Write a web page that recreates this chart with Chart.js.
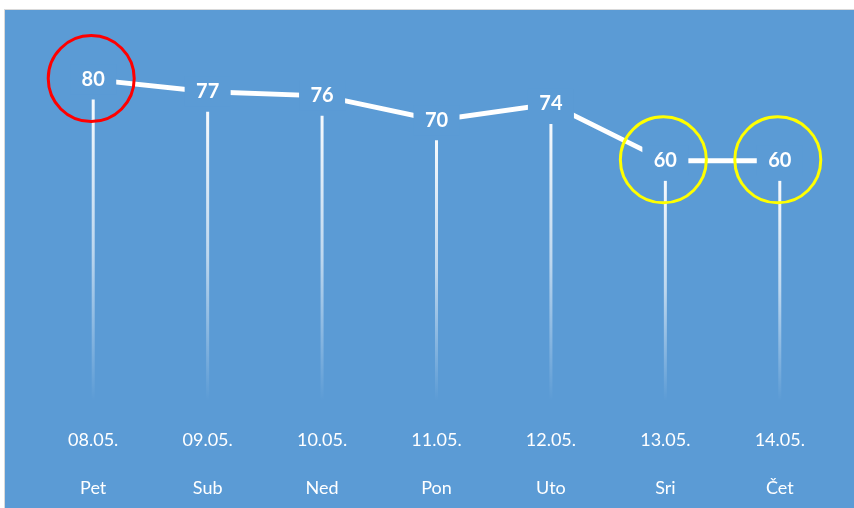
<!DOCTYPE html>
<html>
<head>
<meta charset="utf-8">
<script src="https://cdn.jsdelivr.net/npm/chart.js@4.4.1/dist/chart.umd.min.js"></script>
<style>
  html, body { margin: 0; padding: 0; background: #fff; }
  #wrap { width: 854px; height: 508px; position: relative; }
</style>
</head>
<body>
<div id="wrap"><canvas id="grafikon" width="854" height="508"></canvas></div>
<script>
// podaci s grafa
const datumi = ["08.05.", "09.05.", "10.05.", "11.05.", "12.05.", "13.05.", "14.05."];
const dani = ["Pet", "Sub", "Ned", "Pon", "Uto", "Sri", "Čet"];
const vrijednosti = [80, 77, 76, 70, 74, 60, 60];
const oznaceni = [0, 5, 6];           // zaokruženi dani
const bojeKrugova = ["#ff0000", "#ffff00", "#ffff00"];

const PLAVA = "#5b9bd5";

// pozadina - plavi panel
const pozadina = {
  id: "pozadina",
  beforeDraw(chart) {
    const ctx = chart.ctx;
    ctx.save();
    ctx.fillStyle = "#ffffff";
    ctx.fillRect(0, 0, chart.width, chart.height);
    ctx.fillStyle = PLAVA;
    ctx.fillRect(4, 9, chart.width - 4, chart.height - 9);
    ctx.strokeStyle = "#d9d9d9";
    ctx.lineWidth = 1;
    ctx.strokeRect(4.5, 9.5, chart.width - 4, chart.height - 9);
    ctx.restore();
  }
};

// okomite linije od točke prema osi
const okomice = {
  id: "okomice",
  beforeDatasetsDraw(chart) {
    const ctx = chart.ctx;
    const dno = chart.chartArea.bottom - 4;
    ctx.save();
    chart.getDatasetMeta(0).data.forEach(p => {
      const vrh = p.y + 20;
      const g = ctx.createLinearGradient(0, vrh, 0, dno);
      g.addColorStop(0, "rgba(255,255,255,0.95)");
      g.addColorStop(0.5, "rgba(255,255,255,0.6)");
      g.addColorStop(1, "rgba(255,255,255,0)");
      ctx.strokeStyle = g;
      ctx.lineWidth = 3;
      ctx.beginPath();
      ctx.moveTo(p.x, vrh);
      ctx.lineTo(p.x, dno);
      ctx.stroke();
    });
    ctx.restore();
  }
};

// oznake vrijednosti i krugovi
const oznake = {
  id: "oznake",
  afterDatasetsDraw(chart) {
    const ctx = chart.ctx;
    const tocke = chart.getDatasetMeta(0).data;
    ctx.save();
    ctx.font = "bold 20px Lato, 'Open Sans', sans-serif";
    ctx.textAlign = "center";
    ctx.textBaseline = "middle";
    tocke.forEach((p, i) => {
      ctx.fillStyle = PLAVA;
      ctx.fillRect(p.x - 23, p.y - 15, 46, 30);
      ctx.fillStyle = "#ffffff";
      ctx.fillText(String(vrijednosti[i]), p.x, p.y);
    });
    ctx.lineWidth = 3;
    oznaceni.forEach((idx, k) => {
      const p = tocke[idx];
      ctx.strokeStyle = bojeKrugova[k];
      ctx.beginPath();
      ctx.arc(p.x - 2, p.y - 1, 43, 0, Math.PI * 2);
      ctx.stroke();
    });
    ctx.restore();
  }
};

new Chart(document.getElementById("grafikon"), {
  type: "line",
  data: {
    labels: datumi.map((d, i) => [d, dani[i]]),
    datasets: [{
      data: vrijednosti,
      borderColor: "#ffffff",
      borderWidth: 5,
      pointRadius: 0,
      tension: 0,
      fill: false
    }]
  },
  options: {
    responsive: false,
    animation: false,
    devicePixelRatio: 1,
    layout: { padding: { left: 36, right: 17, top: 39, bottom: -16 } },
    plugins: { legend: { display: false }, tooltip: { enabled: false } },
    scales: {
      x: {
        offset: true,
        grid: { display: false, drawTicks: false },
        border: { display: false },
        ticks: {
          color: "#ffffff",
          font: { family: "Lato, 'Open Sans', sans-serif", size: 18, lineHeight: 2.65 },
          padding: 12,
          maxRotation: 0,
          autoSkip: false
        }
      },
      y: {
        display: false,
        min: 0,
        max: 90
      }
    }
  },
  plugins: [pozadina, okomice, oznake]
});
</script>
</body>
</html>
